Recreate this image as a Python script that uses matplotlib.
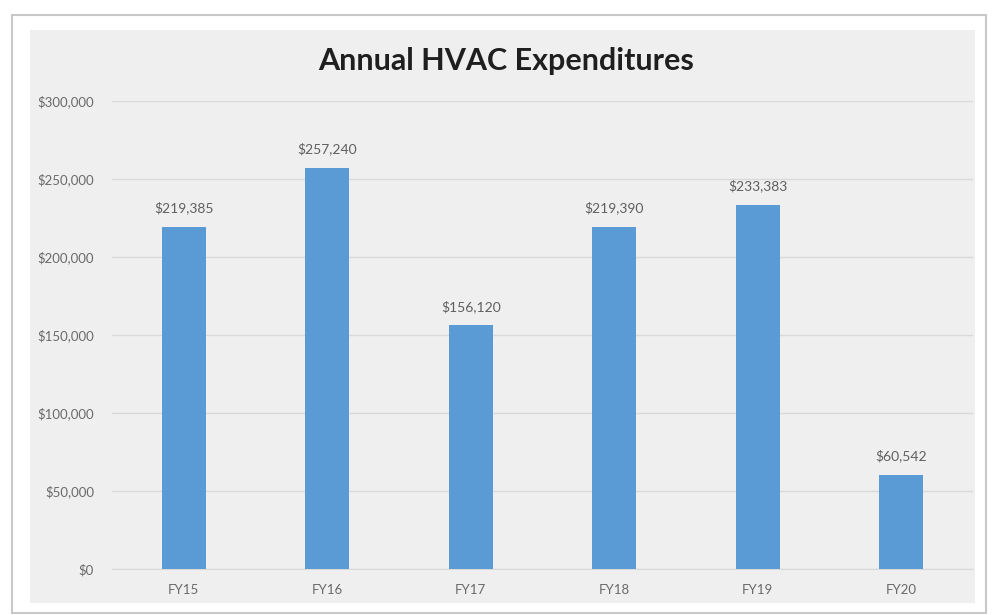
import matplotlib
matplotlib.use("Agg")
import matplotlib.pyplot as plt
from matplotlib.patches import Rectangle
from matplotlib.ticker import FuncFormatter

categories = ["FY15", "FY16", "FY17", "FY18", "FY19", "FY20"]
values = [219385, 257240, 156120, 219390, 233383, 60542]
yticks = [0, 50000, 100000, 150000, 200000, 250000, 300000]

W, H = 992, 615
fig = plt.figure(figsize=(W / 100, H / 100), dpi=100)
fig.patch.set_facecolor("white")

# outer frame and gray panel (figure pixel coords)
def px_rect(x0, y0, x1, y1, **kw):
    return Rectangle((x0 / W, 1 - y1 / H), (x1 - x0) / W, (y1 - y0) / H,
                     transform=fig.transFigure, **kw)

fig.patches.append(px_rect(12, 15, 986, 613, facecolor="white", edgecolor="#c8c8c8",
                           linewidth=1.5, zorder=-3))
fig.patches.append(px_rect(30, 30, 975, 603, facecolor="#efefef", edgecolor="none", zorder=-2))

ax = fig.add_axes([112 / W, 1 - 569 / H, (973 - 112) / W, (569 - 101) / H])
ax.set_facecolor("none")
ax.set_zorder(1)
font = "Lato"

x = range(len(categories))
bars = ax.bar(x, values, width=0.31, color="#5b9bd5", zorder=3)
ax.set_xlim(-0.5, len(categories) - 0.5)
ax.set_ylim(0, 300000)
ax.set_yticks(yticks)
ax.yaxis.set_major_formatter(FuncFormatter(lambda v, p: f"${int(v):,}"))
ax.set_xticks(list(x))
ax.set_xticklabels(categories)
ax.grid(axis="y", color="#d9d9d9", linewidth=1, zorder=0)
for s in ax.spines.values():
    s.set_visible(False)
ax.spines["bottom"].set_visible(True)
ax.spines["bottom"].set_color("#d9d9d9")
ax.tick_params(length=0, colors="#6a6a6a", labelsize=9.5)
ax.tick_params(axis="y", pad=13)
ax.tick_params(axis="x", pad=11)
for lab in ax.get_xticklabels() + ax.get_yticklabels():
    lab.set_fontfamily(font)

for b, v in zip(bars, values):
    ax.annotate(f"${v:,}", (b.get_x() + b.get_width() / 2, v), xytext=(0, 9),
                textcoords="offset points", ha="center", va="bottom",
                fontsize=10, color="#5f5f5f", family=font)

fig.text(506 / W, 1 - 61 / H, "Annual HVAC Expenditures", ha="center", va="center",
         fontsize=22, fontweight="bold", color="#1f1f1f", family=font)

fig.savefig("out.png", dpi=100, facecolor="white")
